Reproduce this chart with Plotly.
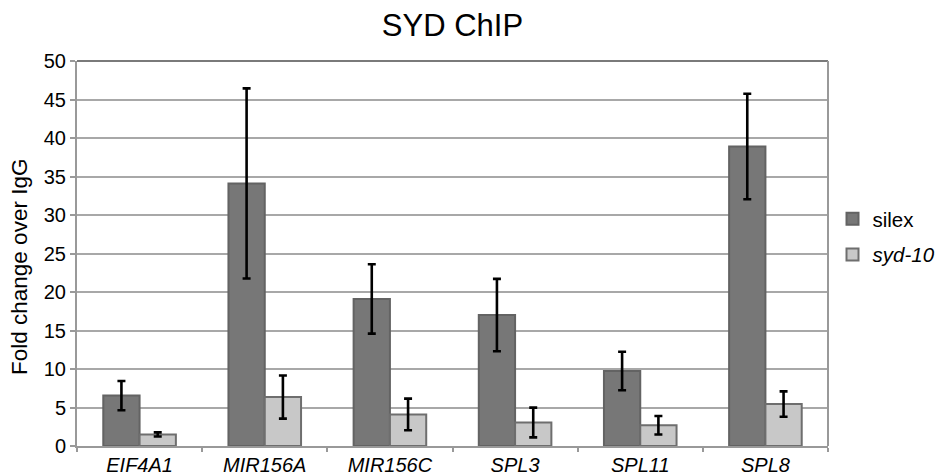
import plotly.graph_objects as go

genes = ["EIF4A1", "MIR156A", "MIR156C", "SPL3", "SPL11", "SPL8"]
silex = [6.55, 34.1, 19.1, 17.0, 9.75, 38.9]
silex_err = [1.9, 12.35, 4.5, 4.7, 2.5, 6.85]
syd10 = [1.5, 6.35, 4.1, 3.05, 2.7, 5.45]
syd10_err = [0.27, 2.8, 2.05, 1.93, 1.2, 1.65]
y_ticks = [0, 5, 10, 15, 20, 25, 30, 35, 40, 45, 50]

FONT = "Liberation Sans, Arial, sans-serif"

fig = go.Figure()
fig.add_trace(go.Bar(
    x=genes, y=silex, name="silex", legendgroup="a",
    marker=dict(color="#777777", line=dict(color="#636363", width=2)),
    error_y=dict(type="data", array=silex_err, color="black", thickness=2.6, width=4),
))
fig.add_trace(go.Bar(
    x=genes, y=syd10, name="<i>syd-10</i>", legendgroup="b",
    marker=dict(color="#c8c8c8", line=dict(color="#6e6e6e", width=2)),
    error_y=dict(type="data", array=syd10_err, color="black", thickness=2.6, width=4),
))

fig.update_layout(
    width=942, height=475,
    paper_bgcolor="white", plot_bgcolor="white",
    font=dict(family=FONT, color="black", size=19),
    title=dict(text="SYD ChIP", xref="paper", x=0.5, xanchor="center",
               yref="container", y=0.947, yanchor="middle",
               font=dict(size=31, family=FONT, color="black")),
    margin=dict(l=77, r=114, t=61, b=29, autoexpand=False),
    barmode="group", bargap=0.42, bargroupgap=0,
    showlegend=True,
    legend=dict(x=1.006, xanchor="left", y=0.543, yanchor="middle",
                bgcolor="rgba(0,0,0,0)",
                font=dict(size=20.5, family=FONT), tracegroupgap=6,
                traceorder="grouped"),
    xaxis=dict(
        automargin=False,
        tickfont=dict(size=20, style="italic", family=FONT),
        showline=True, linecolor="#999999", linewidth=2,
        ticks="outside", tickson="boundaries", ticklen=4, tickcolor="#999999", tickwidth=2,
        mirror=False, showgrid=False,
    ),
    yaxis=dict(
        automargin=False,
        range=[0, 50], tickvals=y_ticks, ticktext=[str(v) for v in y_ticks],
        tickfont=dict(size=20, family=FONT),
        showgrid=True, gridcolor="#a8a8a8", gridwidth=2,
        showline=True, linecolor="#999999", linewidth=2,
        ticks="outside", ticklen=5, tickcolor="#999999", tickwidth=2,
        zeroline=False,
    ),
    annotations=[dict(
        text="Fold change over IgG", textangle=-90, showarrow=False,
        xref="paper", yref="paper", x=0, xshift=-57, xanchor="center",
        y=0.465, yanchor="middle", font=dict(size=22.5, family=FONT, color="black"),
    )],
)
# frame: top and right border of the plot area
fig.add_shape(type="line", xref="paper", yref="paper", x0=0, x1=1, y0=1, y1=1,
              line=dict(color="#7a7a7a", width=2))
fig.add_shape(type="line", xref="paper", yref="paper", x0=1, x1=1, y0=0, y1=1,
              line=dict(color="#999999", width=2))

html = fig.to_html(full_html=True, include_plotlyjs=True,
                   config={"displayModeBar": False})
html = html.replace("<body>", '<body style="margin:0;overflow:hidden">', 1)
with open("out.html", "w", encoding="utf-8") as f:
    f.write(html)
